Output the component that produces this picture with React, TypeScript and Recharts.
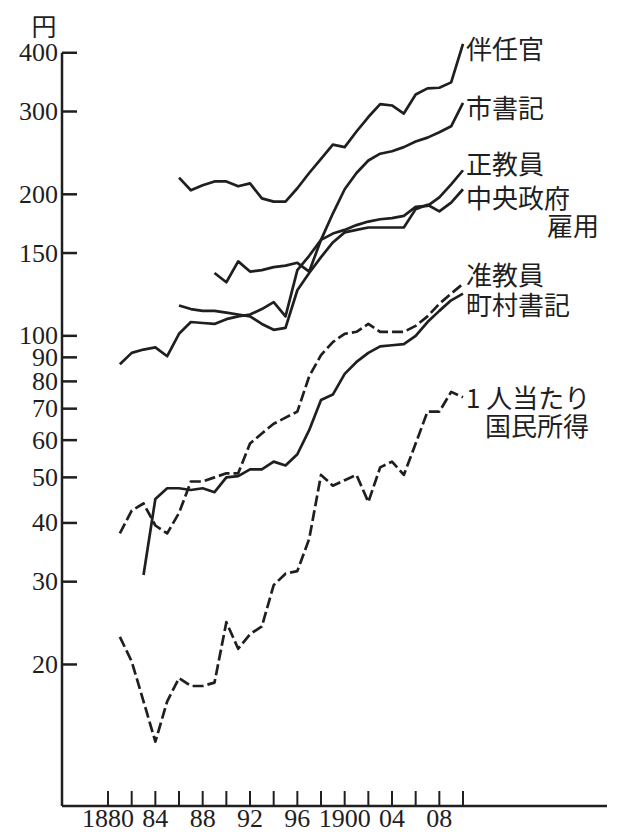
import { LineChart, Line, XAxis, YAxis, ReferenceLine } from 'recharts';

// 1881 .. 1910, one point per year
const years = [
  1881, 1882, 1883, 1884, 1885, 1886, 1887, 1888, 1889, 1890,
  1891, 1892, 1893, 1894, 1895, 1896, 1897, 1898, 1899, 1900,
  1901, 1902, 1903, 1904, 1905, 1906, 1907, 1908, 1909, 1910,
];

const hanninkan = [
  null, null, null, null, null, 217, 204, 209, 213, 213,
  208, 211, 196, 193, 193, 206, 222, 238, 255, 252,
  272, 292, 311, 309, 297, 326, 336, 337, 346, 418,
];
const shiShoki = [
  null, null, null, null, null, null, null, null, 136, 130,
  144, 137, 138, 140, 141, 143, 137, 160, 182, 205,
  222, 236, 244, 247, 252, 259, 264, 271, 279, 313,
];
const seiKyoin = [
  87, 92, 93.5, 94.5, 90.5, 101, 107, 106.5, 106, 108.5,
  110, 111, 114, 118, 110, 138, 148, 160, 165, 168,
  172, 175, 177, 178, 180, 188, 189, 197, 210, 225,
];
const chuoSeifu = [
  null, null, null, null, null, 116, 114, 113, 113, 112,
  111, 110, 106, 103, 104, 125, 136, 147, 158, 166,
  168, 170, 170, 170, 170, 186, 190, 184, 192, 205,
];
const junKyoin = [
  38, 42.5, 44, 39.5, 38, 42, 49, 49, 50, 51,
  51, 59, 62, 65, 67, 69, 82, 91, 97, 101,
  102, 106, 102, 102, 102, 105, 110, 117, 123, 129,
];
const chosonShoki = [
  null, null, 31, 45, 47.4, 47.4, 47, 47.4, 46.5, 50,
  50.3, 52, 52, 54, 53, 56, 63, 73, 75, 83,
  88, 92, 95, 95.5, 96, 100, 107, 113, 119, 123,
];
const kokuminShotoku = [
  22.9, 20.3, 16.7, 13.7, 16.7, 18.7, 18, 18, 18.3, 24.6,
  21.6, 23.2, 24.1, 29.5, 31.2, 31.6, 37, 50.6, 48, 49.3,
  50.6, 44.3, 52.5, 54, 50.6, 59, 69, 69, 76, 74,
];

const xTicks = [1880, 1882, 1884, 1886, 1888, 1890, 1892, 1894, 1896, 1898, 1900, 1902, 1904, 1906, 1908, 1910];
const xTickLabels = ['1880', '', '84', '', '88', '', '92', '', '96', '', '1900', '', '04', '', '08', ''];
const yTicks = [20, 30, 40, 50, 60, 70, 80, 90, 100, 150, 200, 300, 400];

const X_MIN = 1876.11;
const X_MAX = 1922.17;
const Y_MIN = 10;
const Y_MAX = 430;

const INK = '#1f1f1f';
const NUM_FONT = '"Liberation Serif", serif';
const JP_FONT = '"Noto Sans CJK JP", sans-serif';

const data = years.map((year, i) => ({
  year,
  hanninkan: hanninkan[i] ?? undefined,
  shiShoki: shiShoki[i] ?? undefined,
  seiKyoin: seiKyoin[i] ?? undefined,
  chuoSeifu: chuoSeifu[i] ?? undefined,
  junKyoin: junKyoin[i] ?? undefined,
  chosonShoki: chosonShoki[i] ?? undefined,
  kokuminShotoku: kokuminShotoku[i] ?? undefined,
}));

type LabelLine = { text: string; dx: number; dy: number };

const series: { key: string; dashed: boolean; labels: LabelLine[] }[] = [
  { key: 'hanninkan', dashed: false, labels: [{ text: '伴任官', dx: 3, dy: 4 }] },
  { key: 'shiShoki', dashed: false, labels: [{ text: '市書記', dx: 3, dy: 4 }] },
  { key: 'seiKyoin', dashed: false, labels: [{ text: '正教員', dx: 3, dy: -8 }] },
  {
    key: 'chuoSeifu',
    dashed: false,
    labels: [
      { text: '中央政府', dx: 3, dy: 7 },
      { text: '雇用', dx: 84, dy: 35 },
    ],
  },
  { key: 'junKyoin', dashed: true, labels: [{ text: '准教員', dx: 3, dy: -10 }] },
  { key: 'chosonShoki', dashed: false, labels: [{ text: '町村書記', dx: 3, dy: 10 }] },
  {
    key: 'kokuminShotoku',
    dashed: true,
    labels: [
      { text: '1 人当たり', dx: 3, dy: -1 },
      { text: '国民所得', dx: 22, dy: 27 },
    ],
  },
];

const lastIndex = years.length - 1;

const makeEndLabel = (lines: LabelLine[]) => (props: any) => {
  const { x, y, index } = props;
  if (index !== lastIndex || x == null || y == null) return null;
  return (
    <g>
      {lines.map((l) => (
        <text
          key={l.text}
          x={x + l.dx}
          y={y + l.dy}
          fontSize={26}
          fontFamily={JP_FONT}
          fill={INK}
          dominantBaseline="central"
        >
          {l.text}
        </text>
      ))}
    </g>
  );
};

const YTick = (props: any) => {
  const { x, y, payload } = props;
  return (
    <g>
      <line x1={x + 4} x2={x + 19} y1={y} y2={y} stroke={INK} strokeWidth={2.5} />
      <text x={x} y={y} textAnchor="end" dominantBaseline="central" fontSize={26} fontFamily={NUM_FONT} fill={INK}>
        {payload.value}
      </text>
    </g>
  );
};

const XTick = (props: any) => {
  const { x, y, payload } = props;
  const i = xTicks.indexOf(payload.value);
  return (
    <g>
      <line x1={x} x2={x} y1={y - 4} y2={y - 19} stroke={INK} strokeWidth={2} />
      <text x={x} y={y + 17} textAnchor="middle" fontSize={26} fontFamily={NUM_FONT} fill={INK}>
        {xTickLabels[i]}
      </text>
    </g>
  );
};

const UnitLabel = (props: any) => {
  const { viewBox } = props;
  if (!viewBox) return null;
  return (
    <text
      x={viewBox.x + viewBox.width - 18}
      y={viewBox.y - 13}
      textAnchor="middle"
      dominantBaseline="central"
      fontSize={25}
      fontFamily={JP_FONT}
      fill={INK}
    >
      円
    </text>
  );
};

const App = () => {
  return (
    <div style={{ position: 'absolute', left: 0, top: 0, width: 617, height: 834, background: '#fff' }}>
      <LineChart width={617} height={834} data={data} margin={{ top: 38, right: 10, bottom: 0, left: 2 }}>
        <XAxis
          dataKey="year"
          type="number"
          domain={[X_MIN, X_MAX]}
          ticks={xTicks}
          interval={0}
          height={28}
          tickSize={0}
          tickMargin={4}
          tickLine={false}
          axisLine={{ stroke: INK, strokeWidth: 2.5 }}
          tick={<XTick />}
        />
        <YAxis
          type="number"
          scale="log"
          domain={[Y_MIN, Y_MAX]}
          ticks={yTicks}
          interval={0}
          width={60}
          tickSize={0}
          tickMargin={4}
          tickLine={false}
          axisLine={false}
          tick={<YTick />}
          label={<UnitLabel />}
        />
        <ReferenceLine
          segment={[
            { x: X_MIN, y: Y_MIN },
            { x: X_MIN, y: 400 },
          ]}
          stroke={INK}
          strokeWidth={2.5}
          ifOverflow="visible"
        />
        {series.map((s) => (
          <Line
            key={s.key}
            dataKey={s.key}
            type="linear"
            stroke={INK}
            strokeWidth={2.7}
            strokeDasharray={s.dashed ? '11 4' : undefined}
            strokeLinejoin="round"
            dot={false}
            activeDot={false}
            connectNulls={false}
            isAnimationActive={false}
            label={makeEndLabel(s.labels)}
          />
        ))}
      </LineChart>
    </div>
  );
};

export default App;
